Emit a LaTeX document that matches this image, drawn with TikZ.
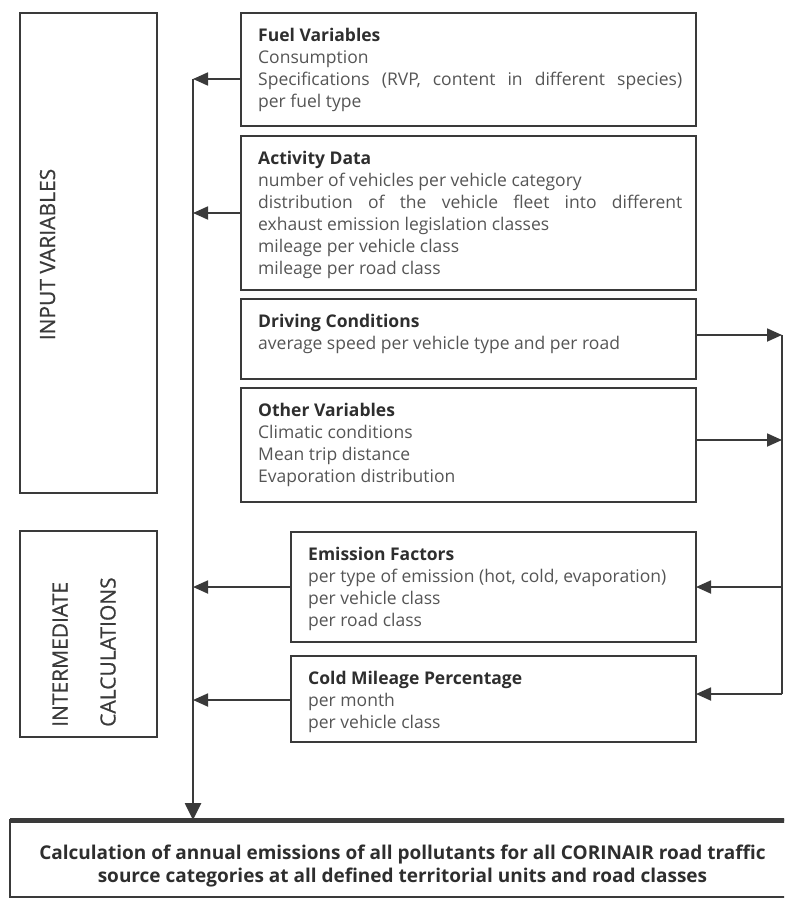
\documentclass[tikz,border=0pt]{standalone}
\usepackage{fontspec}
\setmainfont{Open Sans}
\newfontfamily\sidefont{Open Sans}[FakeBold=0.6]
\usetikzlibrary{arrows.meta}

\definecolor{linegray}{HTML}{3A3A3A}
\definecolor{bodygray}{HTML}{555555}
\definecolor{titlegray}{HTML}{2E2E2E}
\newcommand{\boxtitle}[1]{{\bfseries\color{titlegray}#1}\par}

\begin{document}
\begin{tikzpicture}[x=1pt, y=-1pt,
    box/.style={draw=linegray, line width=1.6pt, rectangle, anchor=north west, inner sep=0pt, outer sep=0pt},
    boxtext/.style={anchor=north west, inner sep=0pt, text width=424pt, align=justify, text=bodygray, font=\fontsize{17.5}{22}\selectfont},
    sidelabel/.style={rotate=90, inner sep=0pt, text=linegray, font=\sidefont\fontsize{21}{24}\selectfont},
    bus/.style={draw=linegray, line width=2.6pt},
    arr/.style={draw=linegray, line width=1.8pt, -{Triangle[length=15pt,width=13pt]}},
    ]

    \useasboundingbox (0,0) rectangle (784,899);
    \clip (0,0) rectangle (784,899);

        % Side boxes
        \node[box, minimum width=137pt, minimum height=480pt] (inbox) at (20,13) {};
        \node[box, minimum width=137pt, minimum height=206pt] (midbox) at (20,531) {};
        \node[sidelabel] (inlabel) at (47.5,254.5) {INPUT VARIABLES};
        \node[sidelabel, anchor=west] (midlabel1) at (60,727) {INTERMEDIATE};
        \node[sidelabel, anchor=west] (midlabel2) at (108,727) {CALCULATIONS};

        % Input variable boxes
        \node[box, minimum width=455pt, minimum height=113pt] (fuel) at (241,13) {};
        \node[box, minimum width=455pt, minimum height=154pt] (activity) at (241,136) {};
        \node[box, minimum width=455pt, minimum height=80pt] (driving) at (241,299) {};
        \node[box, minimum width=455pt, minimum height=114pt] (other) at (241,388) {};

        \node[boxtext] (fueltxt) at ([shift={(17,15)}]fuel.north west) {%
            \boxtitle{Fuel Variables}
            Consumption\par
            Specifications (RVP, content in different species)\linebreak per fuel type};
        \node[boxtext] (activitytxt) at ([shift={(17,15)}]activity.north west) {%
            \boxtitle{Activity Data}
            number of vehicles per vehicle category\par
            distribution of the vehicle fleet into different\linebreak exhaust emission legislation classes\par
            mileage per vehicle class\par
            mileage per road class};
        \node[boxtext] (drivingtxt) at ([shift={(17,15)}]driving.north west) {%
            \boxtitle{Driving Conditions}
            average speed per vehicle type and per road};
        \node[boxtext] (othertxt) at ([shift={(17,15)}]other.north west) {%
            \boxtitle{Other Variables}
            Climatic conditions\par
            Mean trip distance\par
            Evaporation distribution};

        % Intermediate calculation boxes
        \node[box, minimum width=405pt, minimum height=110pt] (emission) at (291,532) {};
        \node[box, minimum width=405pt, minimum height=86pt] (cold) at (291,656) {};

        \node[boxtext, text width=374pt] (emissiontxt) at ([shift={(17,15)}]emission.north west) {%
            \boxtitle{Emission Factors}
            per type of emission (hot, cold, evaporation)\par
            per vehicle class\par
            per road class};
        \node[boxtext, text width=374pt] (coldtxt) at ([shift={(17,15)}]cold.north west) {%
            \boxtitle{Cold Mileage Percentage}
            per month\par
            per vehicle class};

        % Result box
        \node[box, minimum width=785pt, minimum height=77pt] (result) at (10,820) {};
        \draw[linegray, line width=5pt] (result.north west) -- (result.north east);
        \node[align=center, inner sep=0pt, text=titlegray, font=\bfseries\fontsize{19}{23}\selectfont] (resulttxt) at (402.5,866.5)
            {Calculation of annual emissions of all pollutants for all CORINAIR road traffic\\
             source categories at all defined territorial units and road classes};

        % Points on the two collecting lines
        \coordinate (lb1) at (193,79);
        \coordinate (lb2) at (193,213);
        \coordinate (lb3) at (193,587);
        \coordinate (lb4) at (193,700);
        \coordinate (rb1) at (782,335);
        \coordinate (rb2) at (782,440);
        \coordinate (rb3) at (782,587);
        \coordinate (rb4) at (782,694);

        % Draw edges into the left line
        \draw[bus, -{Triangle[length=17pt,width=16pt]}] (lb1) -- (lb1 |- result.north);
        \draw[arr] (fuel.west |- lb1) -- (lb1);
        \draw[arr] (activity.west |- lb2) -- (lb2);
        \draw[arr] (emission.west |- lb3) -- (lb3);
        \draw[arr] (cold.west |- lb4) -- (lb4);

        % Draw edges through the right line
        \draw[bus] (rb1) -- (rb4);
        \draw[arr] (driving.east |- rb1) -- (rb1);
        \draw[arr] (other.east |- rb2) -- (rb2);
        \draw[arr] (rb3) -- (emission.east |- rb3);
        \draw[arr] (rb4) -- (cold.east |- rb4);

\end{tikzpicture}
\end{document}
